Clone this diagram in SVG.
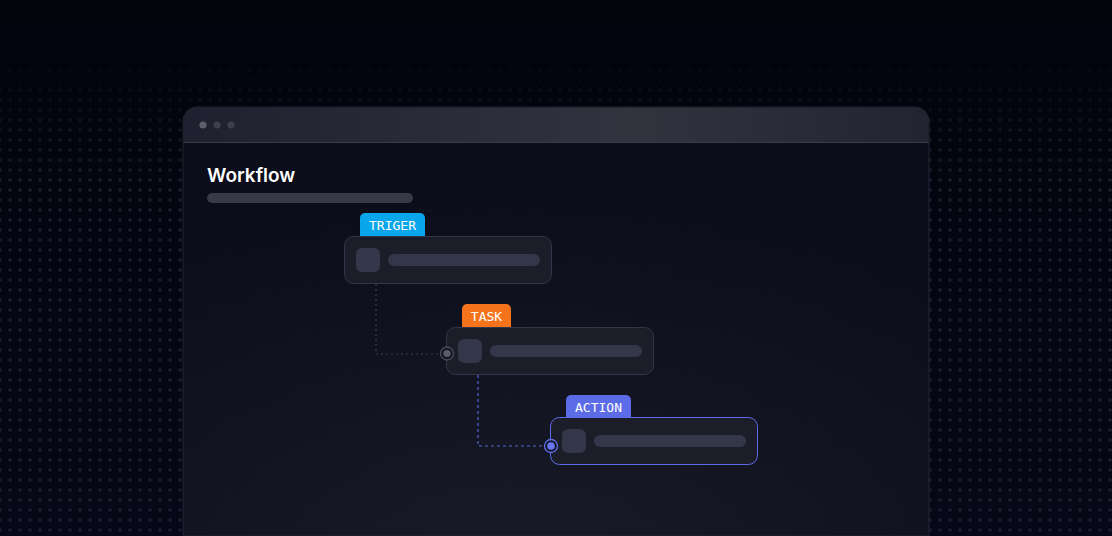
<svg xmlns="http://www.w3.org/2000/svg" width="1112" height="536" viewBox="0 0 1112 536">
  <defs>
    <linearGradient id="bg" x1="0" y1="0" x2="0" y2="1">
      <stop offset="0" stop-color="#02030b"/>
      <stop offset="1" stop-color="#060817"/>
    </linearGradient>
    <pattern id="dots" width="10" height="10" patternUnits="userSpaceOnUse">
      <circle cx="10" cy="10" r="1.8" fill="#1b1e30"/>
      <circle cx="0" cy="0" r="1.8" fill="#1b1e30"/>
      <circle cx="10" cy="0" r="1.8" fill="#1b1e30"/>
      <circle cx="0" cy="10" r="1.8" fill="#1b1e30"/>
    </pattern>
    <linearGradient id="fadeV" x1="0" y1="0" x2="0" y2="1">
      <stop offset="0.08" stop-color="#fff" stop-opacity="0"/>
      <stop offset="0.35" stop-color="#fff" stop-opacity="1"/>
      <stop offset="1" stop-color="#fff" stop-opacity="1"/>
    </linearGradient>
    <mask id="dotMask">
      <rect width="1112" height="536" fill="url(#fadeV)"/>
    </mask>
    <linearGradient id="hdr" x1="0" y1="0" x2="1" y2="0">
      <stop offset="0" stop-color="#1f2130"/>
      <stop offset="0.6" stop-color="#32333f"/>
      <stop offset="1" stop-color="#222431"/>
    </linearGradient>
    <radialGradient id="body" cx="0.45" cy="1.1" r="0.9">
      <stop offset="0" stop-color="#1b1c29" stop-opacity="0.97"/>
      <stop offset="1" stop-color="#0d0e1b" stop-opacity="0.9"/>
    </radialGradient>
    <style>
      .node{fill:#1b1d29;stroke:#33354a;stroke-width:1}
      .ph{fill:#34364a}
      .tagtxt{font-family:"DejaVu Sans Mono","Liberation Mono",monospace;font-size:13px;fill:#ffffff;text-anchor:middle;font-weight:500}
      .conn{fill:none;stroke-width:1.2}
    </style>
  </defs>

  <rect width="1112" height="536" fill="url(#bg)"/>
  <rect width="1112" height="536" fill="url(#dots)" mask="url(#dotMask)"/>

  <g id="window">
    <path d="M183,536 V121 a14,14 0 0 1 14,-14 H915 a14,14 0 0 1 14,14 V536 Z" fill="url(#body)" stroke="#232535" stroke-width="1"/>
    <path d="M183.5,142 V121 a13.5,13.5 0 0 1 13.5,-13.5 H915 a13.5,13.5 0 0 1 13.5,13.5 V142 Z" fill="url(#hdr)"/>
    <line x1="183" y1="142.5" x2="929" y2="142.5" stroke="#3a3c4b" stroke-width="1"/>
    <circle cx="203" cy="125" r="3.6" fill="#5d5f6c"/>
    <circle cx="217" cy="125" r="3.6" fill="#3d3f4d"/>
    <circle cx="231" cy="125" r="3.6" fill="#3d3f4d"/>
    <text x="207" y="182" font-family="Inter, 'Noto Sans', sans-serif" font-size="19" font-weight="600" fill="#ffffff">Workflow</text>
    <rect x="207" y="193" width="206" height="10" rx="5" fill="#383a4a"/>
  </g>

  <g id="trigger">
    <path d="M360,237 V218 a5,5 0 0 1 5,-5 H420 a5,5 0 0 1 5,5 V237 Z" fill="#0aa6ec"/>
    <rect class="node" x="344.5" y="236.5" width="207" height="47" rx="9"/>
    <text class="tagtxt" x="392.5" y="230">TRIGER</text>
    <rect class="ph" x="356" y="248" width="24" height="24" rx="6"/>
    <rect class="ph" x="388" y="254" width="152" height="12" rx="6"/>
  </g>

  <g id="task">
    <path d="M462,328 V309 a5,5 0 0 1 5,-5 H506 a5,5 0 0 1 5,5 V328 Z" fill="#f5731b"/>
    <rect class="node" x="446.5" y="327.5" width="207" height="47" rx="9"/>
    <text class="tagtxt" x="486.5" y="321">TASK</text>
    <rect class="ph" x="458" y="339" width="24" height="24" rx="6"/>
    <rect class="ph" x="490" y="345" width="152" height="12" rx="6"/>
  </g>

  <g id="action">
    <path d="M566,419 V400 a5,5 0 0 1 5,-5 H626 a5,5 0 0 1 5,5 V419 Z" fill="#5b6ce6"/>
    <rect class="node" x="550.5" y="417.5" width="207" height="47" rx="9" style="stroke:#5b6ce6"/>
    <text class="tagtxt" x="598.5" y="412">ACTION</text>
    <rect class="ph" x="562" y="429" width="24" height="24" rx="6"/>
    <rect class="ph" x="594" y="435" width="152" height="12" rx="6"/>
  </g>

  <g id="connectors">
    <path class="conn" d="M376,284 V354 H440" stroke="#3b3d50" stroke-dasharray="2,3"/>
    <path class="conn" d="M478,375 V446 H544" stroke="#5464d8" stroke-dasharray="3,3"/>
    <circle cx="447" cy="353.5" r="6.5" fill="#151724" stroke="#4a4c5c" stroke-width="1.3"/>
    <circle cx="447" cy="353.5" r="3.6" fill="#5a5c6b"/>
    <circle cx="551" cy="446" r="6.5" fill="#151724" stroke="#5f6ff0" stroke-width="1.3"/>
    <circle cx="551" cy="446" r="3.8" fill="#6676f5"/>
  </g>
</svg>
